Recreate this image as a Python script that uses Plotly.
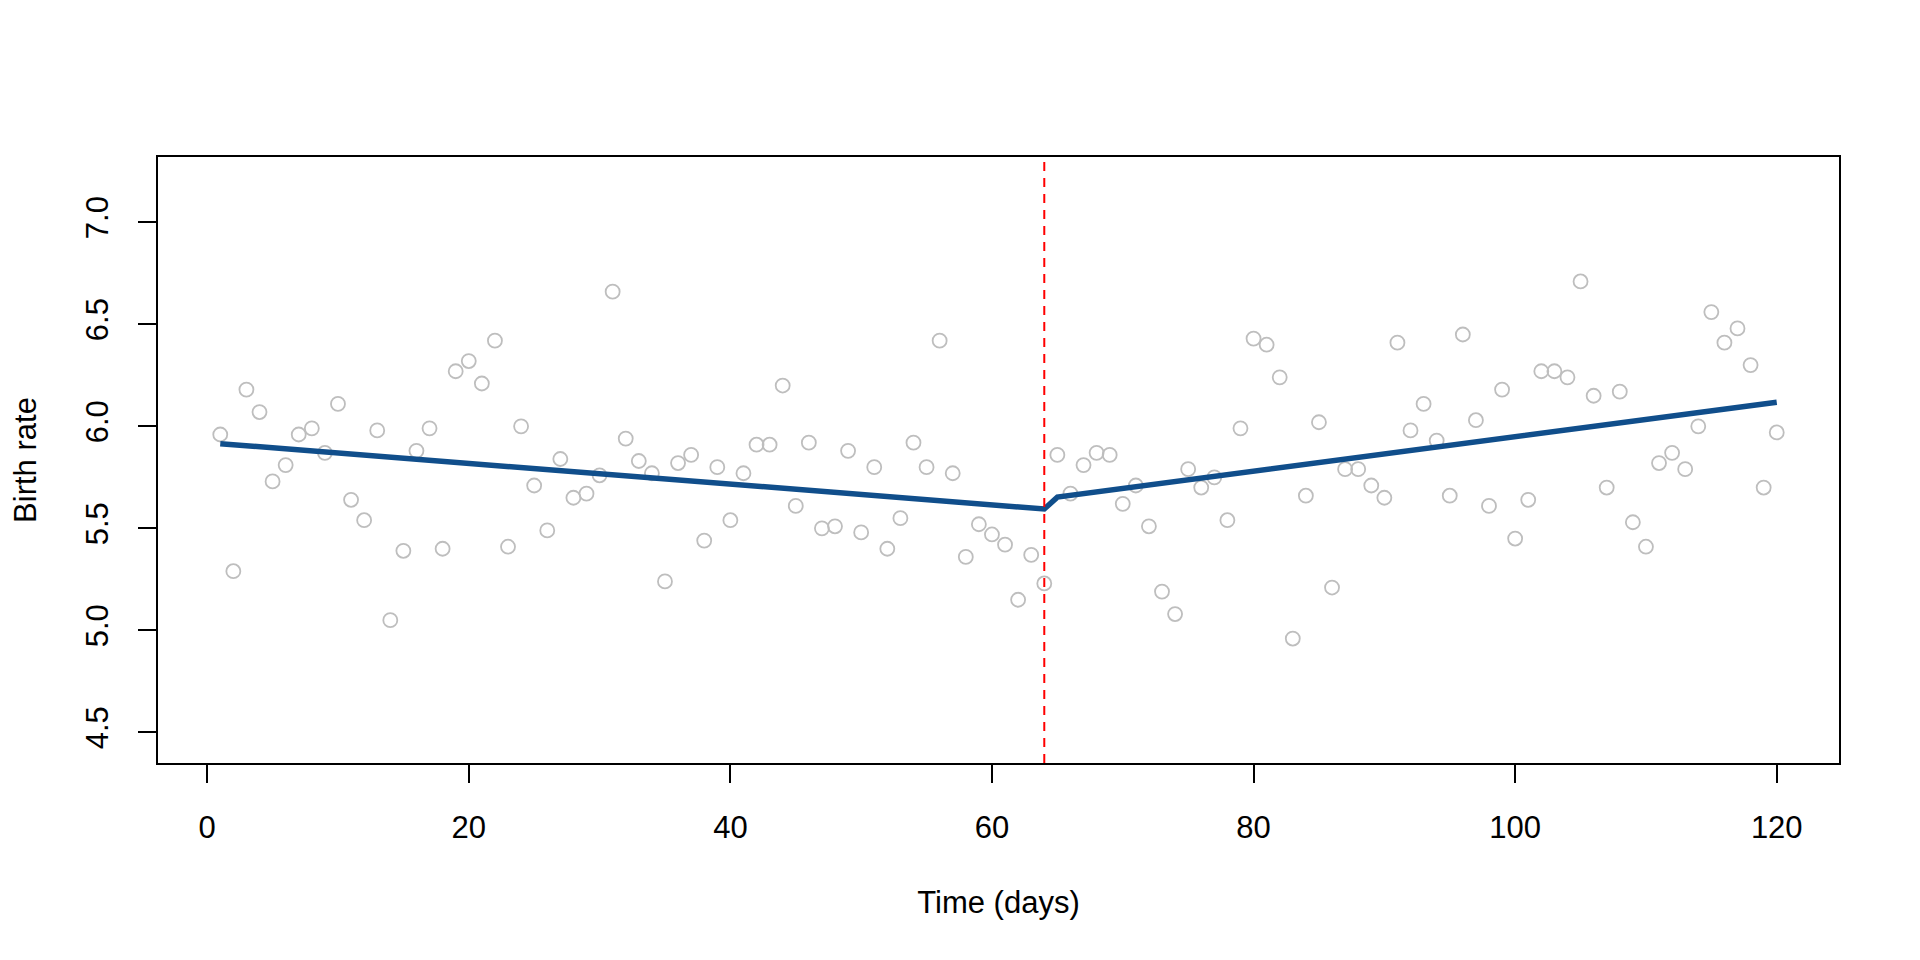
import plotly.graph_objects as go

# observed birth rate per day
days = list(range(1, 121))
birth_rate = [
    5.96, 5.29, 6.18, 6.07, 5.73, 5.81, 5.96, 5.99, 5.87, 6.11,
    5.64, 5.54, 5.98, 5.05, 5.39, 5.88, 5.99, 5.40, 6.27, 6.32,
    6.21, 6.42, 5.41, 6.00, 5.71, 5.49, 5.84, 5.65, 5.67, 5.76,
    6.66, 5.94, 5.83, 5.77, 5.24, 5.82, 5.86, 5.44, 5.80, 5.54,
    5.77, 5.91, 5.91, 6.20, 5.61, 5.92, 5.50, 5.51, 5.88, 5.48,
    5.80, 5.40, 5.55, 5.92, 5.80, 6.42, 5.77, 5.36, 5.52, 5.47,
    5.42, 5.15, 5.37, 5.23, 5.86, 5.67, 5.81, 5.87, 5.86, 5.62,
    5.71, 5.51, 5.19, 5.08, 5.79, 5.70, 5.75, 5.54, 5.99, 6.43,
    6.40, 6.24, 4.96, 5.66, 6.02, 5.21, 5.79, 5.79, 5.71, 5.65,
    6.41, 5.98, 6.11, 5.93, 5.66, 6.45, 6.03, 5.61, 6.18, 5.45,
    5.64, 6.27, 6.27, 6.24, 6.71, 6.15, 5.70, 6.17, 5.53, 5.41,
    5.82, 5.87, 5.79, 6.00, 6.56, 6.41, 6.48, 6.30, 5.70, 5.97,
]

# segmented fit
fit_days = [1, 64, 65, 120]
fit_values = [5.915, 5.595, 5.653, 6.118]

breakpoint_day = 64

x_ticks = [0, 20, 40, 60, 80, 100, 120]
y_ticks = [4.5, 5.0, 5.5, 6.0, 6.5, 7.0]

font = dict(family="Liberation Sans, Arial, sans-serif", size=31, color="black")

fig = go.Figure()
fig.add_trace(go.Scatter(
    x=days, y=birth_rate, mode="markers",
    marker=dict(symbol="circle-open", size=14, color="#BEBEBE",
                line=dict(width=1.8, color="#BEBEBE")),
    hoverinfo="x+y",
))
fig.add_trace(go.Scatter(
    x=fit_days, y=fit_values, mode="lines",
    line=dict(color="#104E8B", width=5.5),
))
fig.add_vline(x=breakpoint_day, line=dict(color="#FF0000", width=2, dash="9px,7px"))

axis_style = dict(
    showgrid=False, zeroline=False, showline=True, mirror=True,
    linecolor="black", linewidth=1.6,
    ticks="outside", ticklen=18, tickwidth=1.6, tickcolor="black",
    tickfont=font,
)

fig.update_xaxes(
    range=[-3.76, 124.76], tickvals=x_ticks, ticklabelstandoff=18,
    title=dict(text="Time (days)", font=font, standoff=47),
    **axis_style,
)
fig.update_yaxes(
    range=[4.35, 7.32], tickvals=y_ticks, tickformat=".1f", tickangle=-90,
    ticklabelstandoff=18,
    title=dict(text="Birth rate", font=font, standoff=36),
    **axis_style,
)

fig.update_layout(
    width=1920, height=960,
    margin=dict(l=150, r=89, t=149, b=205),
    paper_bgcolor="white", plot_bgcolor="white",
    showlegend=False,
)

fig.write_html("out.html")
